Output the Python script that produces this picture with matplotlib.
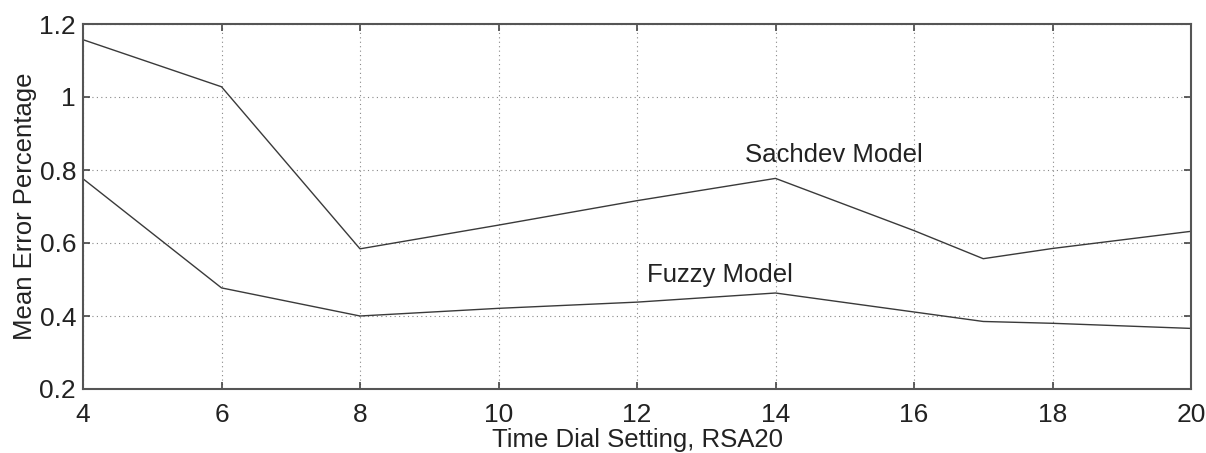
import numpy as np
import matplotlib
matplotlib.use("Agg")
import matplotlib.pyplot as plt

# readings taken off the figure
x = [4, 6, 8, 10, 12, 14, 16, 17, 18, 20]
sachdev = [1.157, 1.028, 0.584, 0.649, 0.716, 0.777, 0.634, 0.557, 0.585, 0.632]
fuzzy = [0.776, 0.477, 0.400, 0.421, 0.438, 0.463, 0.411, 0.385, 0.380, 0.366]
xticks = [4, 6, 8, 10, 12, 14, 16, 18, 20]
yticks = [0.2, 0.4, 0.6, 0.8, 1.0, 1.2]
ytick_labels = ['0.2', '0.4', '0.6', '0.8', '1', '1.2']

plt.rcParams['font.family'] = ['Liberation Sans', 'DejaVu Sans']

fig = plt.figure(figsize=(12.06, 4.53), dpi=100)
ax = fig.add_axes([83/1206, 1 - 389/453, 1108/1206, 365/453])

ax.plot(x, sachdev, color='#3a3a3a', lw=1.0)
ax.plot(x, fuzzy, color='#3a3a3a', lw=1.0)

ax.set_xlim(4, 20)
ax.set_ylim(0.2, 1.2)
ax.set_xticks(xticks)
ax.set_yticks(yticks)
ax.set_yticklabels(ytick_labels)
ax.grid(True, color='#888888', ls=(0, (1, 3)), lw=0.8)
ax.tick_params(direction='in', top=True, right=True, length=5, width=1.2,
               color='#444444', labelsize=19, pad=5, labelcolor='#222222')
ax.tick_params(axis='x', pad=10)
for s in ax.spines.values():
    s.set_color('#555555')
    s.set_linewidth(1.5)

ax.text(14.85, 0.84, 'Sachdev Model', fontsize=18.5, ha='center', va='center', color='#222222')
ax.text(13.2, 0.512, 'Fuzzy Model', fontsize=18.5, ha='center', va='center', color='#222222')

ax.set_xlabel('Time Dial Setting, RSA20', fontsize=18.5, labelpad=1, color='#222222')
ax.set_ylabel('Mean Error Percentage', fontsize=18.5, labelpad=2, color='#222222')

fig.savefig('out.png', dpi=100)
